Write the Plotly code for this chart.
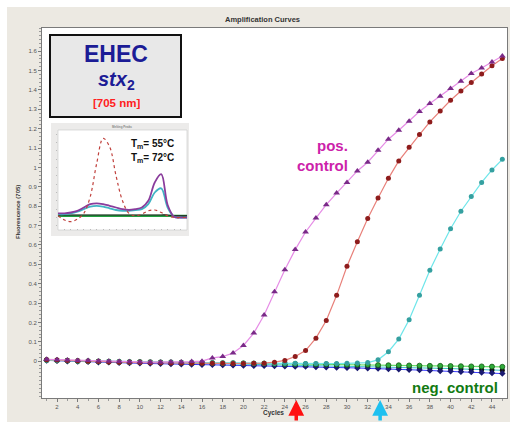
import plotly.graph_objects as go

# ---------------- data ----------------
cycles = list(range(1, 46))

pos_early = [0.010, 0.008, 0.006, 0.004, 0.003, 0.001, 0.000, -0.002, -0.003, -0.004,
             -0.005, -0.005, -0.004, -0.004, -0.002, 0.000, 0.017, 0.024, 0.042, 0.081,
             0.145, 0.238, 0.359, 0.472, 0.576, 0.667, 0.739, 0.808, 0.868, 0.923,
             0.982, 1.027, 1.089, 1.146, 1.192, 1.239, 1.289, 1.330, 1.368, 1.408,
             1.445, 1.485, 1.514, 1.545, 1.575]

pos_mid = [0.008, 0.006, 0.004, 0.002, 0.000, -0.002, -0.004, -0.005, -0.006, -0.007,
           -0.008, -0.008, -0.009, -0.009, -0.010, -0.010, -0.011, -0.011, -0.012, -0.012,
           -0.011, -0.010, -0.005, 0.004, 0.024, 0.055, 0.119, 0.210, 0.340, 0.490,
           0.617, 0.737, 0.842, 0.944, 1.034, 1.105, 1.170, 1.235, 1.292, 1.347,
           1.395, 1.439, 1.482, 1.525, 1.563]

pos_late = [0.005, 0.004, 0.002, 0.001, 0.000, -0.001, -0.002, -0.003, -0.004, -0.005,
            -0.005, -0.006, -0.006, -0.007, -0.007, -0.008, -0.008, -0.009, -0.009, -0.010,
            -0.010, -0.010, -0.011, -0.011, -0.011, -0.012, -0.012, -0.012, -0.012, -0.011,
            -0.009, -0.007, 0.007, 0.049, 0.114, 0.214, 0.340, 0.469, 0.579, 0.684,
            0.774, 0.850, 0.923, 0.987, 1.042]

neg_green = [0.006, 0.004, 0.003, 0.001, 0.000, -0.001, -0.002, -0.003, -0.004, -0.004,
             -0.005, -0.006, -0.006, -0.007, -0.008, -0.008, -0.009, -0.010, -0.010, -0.011,
             -0.012, -0.012, -0.013, -0.014, -0.014, -0.015, -0.016, -0.016, -0.017, -0.018,
             -0.018, -0.019, -0.020, -0.021, -0.021, -0.022, -0.023, -0.024, -0.024, -0.025,
             -0.026, -0.027, -0.027, -0.028, -0.029]

neg_navy = [0.004, 0.002, 0.000, -0.002, -0.003, -0.005, -0.006, -0.008, -0.009, -0.011,
            -0.012, -0.013, -0.015, -0.016, -0.017, -0.018, -0.019, -0.020, -0.021, -0.022,
            -0.023, -0.024, -0.025, -0.026, -0.027, -0.028, -0.030, -0.031, -0.032, -0.034,
            -0.035, -0.037, -0.038, -0.040, -0.042, -0.044, -0.046, -0.048, -0.050, -0.052,
            -0.054, -0.056, -0.058, -0.061, -0.064]

neg_black = [0.006, 0.005, 0.003, 0.001, 0.000, -0.002, -0.003, -0.004, -0.005, -0.006,
             -0.007, -0.008, -0.009, -0.010, -0.011, -0.012, -0.013, -0.014, -0.015, -0.016,
             -0.017, -0.018, -0.019, -0.020, -0.021, -0.022, -0.023, -0.024, -0.025, -0.026,
             -0.027, -0.028, -0.029, -0.030, -0.031, -0.033, -0.034, -0.035, -0.037, -0.038,
             -0.040, -0.041, -0.043, -0.045, -0.047]

x_ticks = list(range(2, 46, 2))
y_ticks = [round(i * 0.1, 1) for i in range(0, 17)]
y_tick_labels = ["0"] + [f"{v:g}" for v in y_ticks[1:]]

# melting-peak inset
melt_temp = list(range(40, 82, 2))
melt_red = [0.02, -0.03, -0.05, -0.02, 0.05, 0.25, 0.65, 0.95, 0.85, 0.50, 0.20,
            0.05, 0.02, 0.04, 0.08, 0.09, 0.06, 0.02, 0.00, 0.00, 0.00]
melt_purple = [0.05, 0.05, 0.06, 0.08, 0.12, 0.16, 0.17, 0.16, 0.14, 0.12, 0.10,
               0.09, 0.10, 0.12, 0.20, 0.42, 0.52, 0.15, 0.01, 0.00, 0.00]
melt_cyan = [0.04, 0.04, 0.05, 0.07, 0.10, 0.13, 0.14, 0.13, 0.11, 0.09, 0.08,
             0.08, 0.09, 0.10, 0.16, 0.30, 0.35, 0.12, 0.01, 0.00, 0.00]
melt_green = [0.02, 0.02, 0.02, 0.02, 0.02, 0.02, 0.02, 0.02, 0.02, 0.02, 0.02,
              0.02, 0.02, 0.02, 0.02, 0.02, 0.02, 0.02, 0.02, 0.02, 0.02]
melt_black = [0.03, 0.03, 0.03, 0.03, 0.03, 0.03, 0.03, 0.03, 0.03, 0.03, 0.03,
              0.03, 0.03, 0.03, 0.03, 0.03, 0.03, 0.03, 0.02, 0.02, 0.02]

# ---------------- layout helpers ----------------
W, H = 510, 422
L, R, T, B = 42, 3, 28, 24
PW, PH = W - L - R, H - T - B


def px(xp):
    return (xp - L) / PW


def py(yp):
    return (H - B - yp) / PH


FONT = "Liberation Sans, Arial, Helvetica, sans-serif"

fig = go.Figure()

# negative controls first (underneath)
fig.add_trace(go.Scatter(x=cycles, y=neg_black, mode="lines+markers",
                         line=dict(color="#3cc8c8", width=1),
                         marker=dict(symbol="circle", size=5, color="#111111")))
fig.add_trace(go.Scatter(x=cycles, y=neg_navy, mode="lines+markers",
                         line=dict(color="#3a3aff", width=1),
                         marker=dict(symbol="diamond", size=5, color="#1a1a70")))
fig.add_trace(go.Scatter(x=cycles, y=neg_green, mode="lines+markers",
                         line=dict(color="#66dd66", width=1.2),
                         marker=dict(symbol="circle", size=5, color="#2faa3a",
                                     line=dict(color="#145a14", width=0.8))))
# positives
fig.add_trace(go.Scatter(x=cycles, y=pos_late, mode="lines+markers",
                         line=dict(color="#6ee6ea", width=1.2),
                         marker=dict(symbol="circle", size=5, color="#35a0a0")))
fig.add_trace(go.Scatter(x=cycles, y=pos_mid, mode="lines+markers",
                         line=dict(color="#e8807a", width=1.2),
                         marker=dict(symbol="circle", size=5, color="#8e1c1c")))
fig.add_trace(go.Scatter(x=cycles, y=pos_early, mode="lines+markers",
                         line=dict(color="#e68ce6", width=1.2),
                         marker=dict(symbol="triangle-up", size=6, color="#7a2a88")))

# inset melting traces
fig.add_trace(go.Scatter(x=melt_temp, y=melt_green, mode="lines", xaxis="x2", yaxis="y2",
                         line=dict(color="#22a040", width=2.2, shape="spline")))
fig.add_trace(go.Scatter(x=melt_temp, y=melt_black, mode="lines", xaxis="x2", yaxis="y2",
                         line=dict(color="#202020", width=1.2, shape="spline")))
fig.add_trace(go.Scatter(x=melt_temp, y=melt_cyan, mode="lines", xaxis="x2", yaxis="y2",
                         line=dict(color="#40b4c4", width=1.8, shape="spline")))
fig.add_trace(go.Scatter(x=melt_temp, y=melt_purple, mode="lines", xaxis="x2", yaxis="y2",
                         line=dict(color="#8a3c9c", width=1.8, shape="spline")))
fig.add_trace(go.Scatter(x=melt_temp, y=melt_red, mode="lines", xaxis="x2", yaxis="y2",
                         line=dict(color="#c0403c", width=1.2, dash="dot", shape="spline")))

shapes = [
    # beige window background
    dict(type="rect", xref="paper", yref="paper", x0=px(7), x1=px(W + 5), y0=py(7), y1=py(H + 5),
         fillcolor="#ece9e2", line=dict(width=0), layer="below"),
    # white plot area
    dict(type="rect", xref="paper", yref="paper", x0=0, x1=1, y0=0, y1=1,
         fillcolor="white", line=dict(width=0), layer="below"),
    # inset frame
    dict(type="rect", xref="paper", yref="paper", x0=px(51), x1=px(189), y0=py(123), y1=py(236),
         fillcolor="#ecebea", line=dict(width=0), layer="below"),
    dict(type="rect", xref="paper", yref="paper", x0=px(58), x1=px(187), y0=py(130), y1=py(230),
         fillcolor="white", line=dict(color="#c8c8c8", width=0.6), layer="below"),
    # EHEC box
    dict(type="rect", xref="paper", yref="paper", x0=px(50), x1=px(181), y0=py(35), y1=py(117),
         fillcolor="#e8e8e8", line=dict(color="#111111", width=2), layer="above"),
]


def label(text, xp, yp, size, color, xanchor="center", **kw):
    return dict(text=text, x=px(xp), y=py(yp), xref="paper", yref="paper",
                xanchor=xanchor, yanchor="middle", showarrow=False,
                font=dict(size=size, color=color, family=FONT), **kw)


annotations = [
    label("<b>Amplification Curves</b>", 262, 19, 7.5, "#333333"),
    label("<b>Cycles</b>", 273, 413, 6.5, "#333333"),
    label("<b>Fluorescence (705)</b>", 18, 212, 6, "#333333", textangle=-90),
    label("<b>EHEC</b>", 116, 54, 23, "#1c1c96"),
    label("<b><i>stx</i><sub>2</sub></b>", 116, 80, 20, "#1c1c96"),
    label("<b>[705 nm]</b>", 116, 103, 11.5, "#ff2020"),
    label("<b>T<sub>m</sub>= 55°C</b>", 152, 144, 10, "#111111"),
    label("<b>T<sub>m</sub>= 72°C</b>", 152, 158, 10, "#111111"),
    label("<b>Melting Peaks</b>", 122, 127, 3, "#888888"),
    label("<b>pos.<br>control</b>", 350, 155, 15, "#cc22aa", xanchor="right", align="right"),
    label("<b>neg. control</b>", 455, 387, 15, "#127a12"),
    # arrows
    dict(text="", x=25.1, y=py(400), xref="x", yref="paper", showarrow=True,
         ax=0, ay=28, arrowhead=2, arrowsize=0.9, arrowwidth=3.5, arrowcolor="#ff1010"),
    dict(text="", x=33.2, y=py(400), xref="x", yref="paper", showarrow=True,
         ax=0, ay=28, arrowhead=2, arrowsize=0.9, arrowwidth=3.5, arrowcolor="#1ec0f0"),
]

fig.update_layout(
    width=W, height=H,
    margin=dict(l=L, r=R, t=T, b=B, pad=0),
    paper_bgcolor="white", plot_bgcolor="rgba(0,0,0,0)",
    showlegend=False, hovermode=False,
    font=dict(family=FONT, size=6, color="#555555"),
    shapes=shapes, annotations=annotations,
    xaxis=dict(range=[0.55, 45.45], tickvals=x_ticks, ticktext=[str(v) for v in x_ticks],
               showgrid=False, zeroline=False, showline=True, linecolor="#7a7a7a", linewidth=1,
               mirror=True, ticks="outside", ticklen=3, tickcolor="#7a7a7a",
               tickfont=dict(size=6, color="#555555"),
               minor=dict(dtick=1, ticks="outside", ticklen=2, tickcolor="#9a9a9a")),
    yaxis=dict(range=[-0.19, 1.72], tickvals=y_ticks, ticktext=y_tick_labels,
               showgrid=False, zeroline=False, showline=True, linecolor="#7a7a7a", linewidth=1,
               mirror=True, ticks="outside", ticklen=3, tickcolor="#7a7a7a",
               tickfont=dict(size=6, color="#555555"),
               minor=dict(dtick=0.02, ticks="outside", ticklen=2, tickcolor="#9a9a9a")),
    xaxis2=dict(domain=[px(58), px(187)], anchor="y2", range=[40, 80],
                showgrid=False, zeroline=False, showline=False, ticks="inside", ticklen=1.5,
                tickcolor="#bbbbbb", dtick=2, showticklabels=False),
    yaxis2=dict(domain=[py(230), py(130)], anchor="x2", range=[-0.15, 1.05],
                showgrid=False, zeroline=False, showline=False, ticks="outside", ticklen=1.5,
                tickcolor="#bbbbbb", dtick=0.1, showticklabels=False),
)

fig.write_html("out.html", config={"displayModeBar": False, "staticPlot": True},
               post_script="document.body.style.margin='0';document.body.style.overflow='hidden';")
